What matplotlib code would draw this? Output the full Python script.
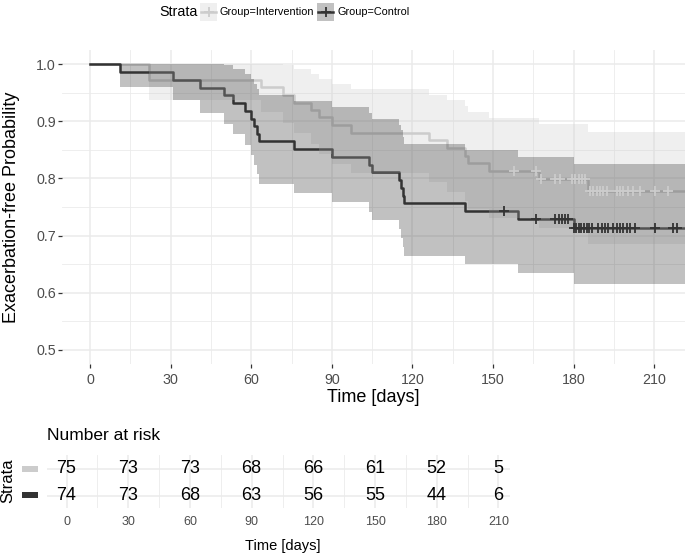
import numpy as np
import matplotlib as mpl
mpl.use("Agg")
import matplotlib.pyplot as plt
from matplotlib.patches import Rectangle
from matplotlib.lines import Line2D
from matplotlib.ticker import MultipleLocator, FormatStrFormatter

W, H = 685, 557

mpl.rcParams.update({
    "font.family": ["Liberation Sans", "DejaVu Sans"],
    "axes.spines.top": False, "axes.spines.right": False,
    "axes.spines.left": False, "axes.spines.bottom": False,
})

GROUPS = ["Group=Intervention", "Group=Control"]
COLORS = ["#cccccc", "#333333"]

# Kaplan-Meier steps (time in days)
int_t = [0, 22, 63.6, 71.7, 76, 82.2, 85.3, 90.2, 97, 126, 133, 139.7, 140.7, 148.4, 167, 185.5, 222]
int_s = [1, .973, .960, .947, .933, .920, .907, .893, .880, .867, .853, .840, .827, .813, .799, .778, .778]
int_lo = [1, .937, .917, .897, .879, .861, .843, .826, .809, .793, .777, .761, .746, .730, .713, .686, .686]
int_hi = [1, 1, 1, .999, .992, .983, .975, .966, .957, .947, .937, .927, .917, .906, .895, .881, .881]
int_cens = [158, 166, 168, 173, 175, 179.4, 180.6, 181.9, 183.1, 184.3, 186.2, 187.4, 188.6,
            189.9, 191.1, 192.3, 196.1, 197.3, 198.5, 200.4, 202.2, 204.7, 210.3, 215.2]

ctl_t = [0, 11, 30.8, 41, 50, 53, 57.7, 60, 61, 62, 63, 76, 90.2, 104, 105, 115, 115.9, 116.5,
         117, 139.7, 159.2, 180, 222]
ctl_s = [1, .986, .973, .959, .946, .932, .919, .905, .892, .878, .865, .851, .838, .824, .811,
         .797, .784, .770, .757, .743, .729, .713, .713]
ctl_lo = [1, .960, .937, .915, .896, .877, .859, .841, .824, .807, .790, .774, .758, .742, .727,
          .711, .696, .680, .665, .650, .635, .616, .616]
ctl_hi = [1, 1, 1, 1, .999, .991, .983, .974, .966, .956, .947, .936, .926, .915, .905, .894,
          .884, .872, .861, .849, .838, .825, .825]
ctl_cens = [154, 166, 173.1, 174.4, 175.6, 176.9, 178.1, 180.0, 181, 182, 182.9, 183.9, 184.9,
            185.9, 186.9, 189.2, 190.5, 191.7, 193, 194.8, 196, 197.3, 198.5, 199.8, 201,
            202.9, 210.3, 217.1, 218.6]

risk_times = [0, 30, 60, 90, 120, 150, 180, 210]
risk_int = [75, 73, 73, 68, 66, 61, 52, 5]
risk_ctl = [74, 73, 68, 63, 56, 55, 44, 6]


def fx(px):
    return px / W


def fy(py):
    return 1 - py / H


def step_at(times, vals, x):
    idx = np.searchsorted(times, x, side="right") - 1
    return np.asarray(vals)[idx]


fig = plt.figure(figsize=(W / 100, H / 100), dpi=100)

# ---- main survival panel
ax = fig.add_axes([fx(62), fy(364), fx(685) - fx(62), fy(50) - fy(364)])
curves = [(int_t, int_s, int_lo, int_hi, int_cens), (ctl_t, ctl_s, ctl_lo, ctl_hi, ctl_cens)]
for (t, s, lo, hi, cens), c in zip(curves, COLORS):
    ax.step(t, s, where="post", color=c, lw=1.8, zorder=2)
for (t, s, lo, hi, cens), c in zip(curves, COLORS):
    ax.fill_between(t, lo, hi, step="post", color=c, alpha=0.3, lw=0, zorder=3)
for (t, s, lo, hi, cens), c in zip(curves, COLORS):
    ax.plot(cens, step_at(t, s, cens), ls="none", marker="+", ms=7, mew=1.3, color=c, zorder=5)

ax.set_xlim(-10.5, 221.5)
ax.set_ylim(0.475, 1.025)
ax.xaxis.set_major_locator(MultipleLocator(30))
ax.xaxis.set_minor_locator(MultipleLocator(15))
ax.yaxis.set_major_locator(MultipleLocator(0.1))
ax.yaxis.set_minor_locator(MultipleLocator(0.05))
ax.yaxis.set_major_formatter(FormatStrFormatter("%.1f"))
ax.grid(True, which="major", color="#ebebeb", lw=1.1)
ax.grid(True, which="minor", color="#ebebeb", lw=0.6)
ax.set_axisbelow(True)
ax.tick_params(which="major", length=3, width=0.9, color="#333333", labelsize=10.3,
               labelcolor="#4d4d4d", pad=3.5)
ax.tick_params(axis="y", pad=1.5)
ax.tick_params(which="minor", length=0)

fig.text(fx(12), fy(207), "Exacerbation-free Probability", rotation=90, ha="center",
         va="center", fontsize=13)
fig.text(fx(373), fy(398), "Time [days]", ha="center", va="center", fontsize=13)

# ---- legend on top
fig.text(fx(159), fy(12), "Strata", ha="left", va="center", fontsize=10.3)
key_x = [200, 317]
text_x = [220, 337]
for kx, tx, c, g in zip(key_x, text_x, COLORS, GROUPS):
    fig.add_artist(Rectangle((fx(kx), fy(20.5)), fx(17), fy(3.5) - fy(20.5),
                             transform=fig.transFigure, facecolor=c, alpha=0.3, lw=0))
    fig.add_artist(Line2D([fx(kx + 1), fx(kx + 16)], [fy(12), fy(12)],
                          transform=fig.transFigure, color=c, lw=1.8))
    fig.add_artist(Line2D([fx(kx + 8.5)], [fy(12)], transform=fig.transFigure, color=c,
                          marker="+", ms=7, mew=1.3, ls="none"))
    fig.text(fx(tx), fy(12), g, ha="left", va="center", fontsize=7.8)

# ---- number at risk table
rx = fig.add_axes([fx(47), fy(508), fx(510) - fx(47), fy(455) - fy(508)])
rx.set_xlim(-9.5, 215.6)
rx.set_ylim(0.55, 2.52)
for row, vals in [(2, risk_int), (1, risk_ctl)]:
    for t, v in zip(risk_times, vals):
        rx.text(t, row, str(v), ha="center", va="center", fontsize=13, color="black")
rx.xaxis.set_major_locator(MultipleLocator(30))
rx.xaxis.set_minor_locator(MultipleLocator(15))
rx.set_yticks([1, 2])
rx.set_yticklabels([])
rx.grid(True, which="major", color="#ebebeb", lw=1.1)
rx.grid(True, which="minor", axis="x", color="#ebebeb", lw=0.6)
rx.set_axisbelow(True)
rx.tick_params(which="both", length=0)
rx.tick_params(axis="x", labelsize=9, labelcolor="#4d4d4d", pad=6)

fig.text(fx(47), fy(436), "Number at risk", ha="left", va="center", fontsize=12.5)
fig.text(fx(8), fy(481), "Strata", rotation=90, ha="center", va="center", fontsize=12)
for yc, c in zip([468.5, 495], COLORS):
    fig.add_artist(Rectangle((fx(22), fy(yc + 3)), fx(16), fy(yc - 3) - fy(yc + 3),
                             transform=fig.transFigure, facecolor=c, lw=0))
fig.text(fx(283), fy(546), "Time [days]", ha="center", va="center", fontsize=10.5)

fig.savefig("out.png", dpi=100)
